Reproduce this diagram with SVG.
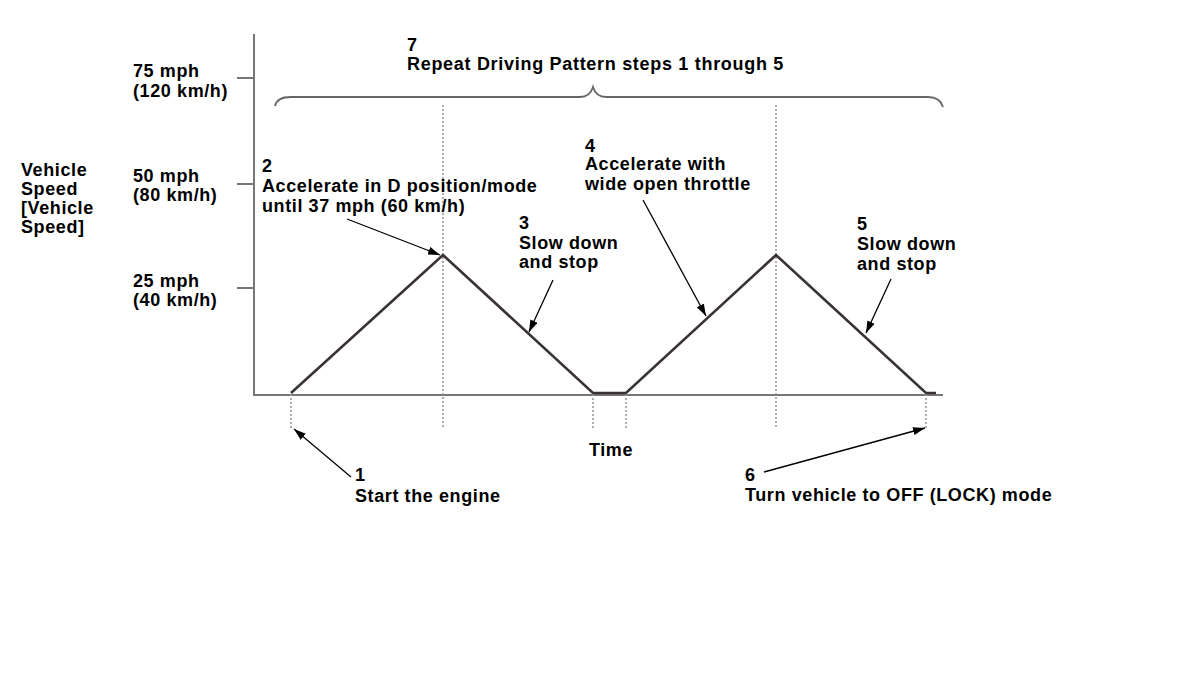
<svg xmlns="http://www.w3.org/2000/svg" width="1200" height="689" viewBox="0 0 1200 689">
<style>
text{font-family:"Liberation Sans",Arial,sans-serif;font-weight:bold;font-size:18px;letter-spacing:0.6px;fill:#000}
.axis{stroke:#777;stroke-width:2;fill:none}
.dot{stroke:#999;stroke-width:1.6;stroke-dasharray:2 2;fill:none}
.speed{stroke:#3a3333;stroke-width:2.6;fill:none;stroke-linejoin:miter}
.arr{stroke:#000;stroke-width:1.3;fill:none;marker-end:url(#ah)}
.brace{stroke:#666;stroke-width:1.8;fill:none}
</style>
<defs>
<marker id="ah" markerUnits="userSpaceOnUse" markerWidth="12" markerHeight="8" refX="12" refY="4" orient="auto">
<path d="M0,0 L12,4 L0,8 z" fill="#000"/>
</marker>
</defs>
<rect width="1200" height="689" fill="#fff"/>
<g id="axes">
<path class="axis" d="M254,34 V395 H943"/>
<path class="axis" d="M237,78 H254 M237,184 H254 M237,288 H254"/>
</g>
<g id="guides">
<path class="dot" d="M291,394 V428 M443,105 V428 M593,394 V428 M626,394 V428 M776,105 V428 M926,394 V428"/>
</g>
<g id="speed-profile">
<path class="speed" d="M291,393 L443,255 L593,393 L626,393 L776,255 L926,393 L936,393"/>
</g>
<g id="brace">
<path class="brace" d="M275,106 Q277,97 291,97 L580,97 Q590,97 593,87 Q596,97 606,97 L928,97 Q940,97 943,107"/>
</g>
<g id="y-labels">
<text x="21" y="176">Vehicle</text>
<text x="21" y="195">Speed</text>
<text x="21" y="214">[Vehicle</text>
<text x="21" y="233">Speed]</text>
<text x="133" y="77">75 mph</text>
<text x="133" y="97">(120 km/h)</text>
<text x="133" y="182">50 mph</text>
<text x="133" y="201">(80 km/h)</text>
<text x="133" y="287">25 mph</text>
<text x="133" y="306">(40 km/h)</text>
</g>
<g id="step7">
<text x="407" y="51" style="letter-spacing:0.7px">7</text>
<text x="407" y="70" style="letter-spacing:0.7px">Repeat Driving Pattern steps 1 through 5</text>
</g>
<g id="step2">
<text x="262" y="172">2</text>
<text x="262" y="192">Accelerate in D position/mode</text>
<text x="262" y="212">until 37 mph (60 km/h)</text>
</g>
<g id="step3">
<text x="519" y="229">3</text>
<text x="519" y="249">Slow down</text>
<text x="519" y="268">and stop</text>
</g>
<g id="step4">
<text x="585" y="152">4</text>
<text x="585" y="170">Accelerate with</text>
<text x="585" y="190">wide open throttle</text>
</g>
<g id="step5">
<text x="857" y="230">5</text>
<text x="857" y="250">Slow down</text>
<text x="857" y="270">and stop</text>
</g>
<g id="time">
<text x="589" y="456">Time</text>
</g>
<g id="step1">
<text x="355" y="481">1</text>
<text x="355" y="502">Start the engine</text>
</g>
<g id="step6">
<text x="745" y="481">6</text>
<text x="745" y="501">Turn vehicle to OFF (LOCK) mode</text>
</g>
<g id="connectors">
<path class="arr" d="M351,477 L294,429"/>
<path class="arr" d="M347,219 L440,255"/>
<path class="arr" d="M553,280 L529,332"/>
<path class="arr" d="M643,200 L706,316"/>
<path class="arr" d="M891,279 L866,333"/>
<path class="arr" d="M764,472 L925,428"/>
</g>
</svg>
